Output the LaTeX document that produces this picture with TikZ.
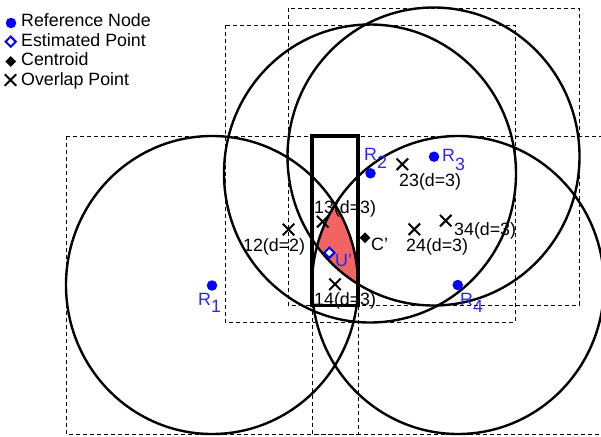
\documentclass[tikz,border=0pt]{standalone}
\usepackage{fontspec}
\setmainfont{Liberation Sans}
\usetikzlibrary{shapes.geometric,shapes.misc}
\definecolor{lblue}{RGB}{40,40,240}
\definecolor{redfill}{RGB}{242,100,100}
\begin{document}
\begin{tikzpicture}[x=1pt,y=-1pt,
  circ/.style={line width=2.4pt,draw=black},
  bbox/.style={draw=black,line width=0.9pt,dash pattern=on 4pt off 3pt},
  refdot/.style={circle,fill=blue,inner sep=0pt,minimum size=10.5pt},
  estpt/.style={diamond,draw=blue,line width=2pt,fill=white,inner sep=0pt,minimum size=11pt},
  cenpt/.style={diamond,fill=black,inner sep=0pt,minimum size=11pt},
  ovpt/.style={cross out,draw=black,line width=2pt,inner sep=0pt,minimum size=9.5pt},
  lbl/.style={anchor=base west,inner sep=0pt,font=\fontsize{17.8}{20}\selectfont},
  rlbl/.style={lbl,text=lblue}]
\useasboundingbox (0,0) rectangle (601,436);
% bounding boxes
\draw[bbox] (66,136) rectangle (358,434);
\draw[bbox] (225,25) rectangle (515,322);
\draw[bbox] (288,8) rectangle (579,305);
\draw[bbox] (312,136) rectangle (604,434);
% red overlap region
\begin{scope}
  \clip (212,285) ellipse [x radius=146,y radius=149];
  \clip (433.5,156.5) ellipse [x radius=146,y radius=149];
  \fill[redfill] (458,285) ellipse [x radius=146,y radius=149];
\end{scope}
% circles
\draw[circ] (212,285) ellipse [x radius=146,y radius=149];
\draw[circ] (370,173.5) ellipse [x radius=146,y radius=149];
\draw[circ] (433.5,156.5) ellipse [x radius=146,y radius=149];
\draw[circ] (458,285) ellipse [x radius=146,y radius=149];
% bold rectangle
\draw[line width=3.4pt] (312,136) rectangle (358,305.5);
% reference nodes
\node[refdot] (r1) at (212,285.5) {};
\node[refdot] (r2) at (370.5,173.3) {};
\node[refdot] (r3) at (434,156.7) {};
\node[refdot] (r4) at (457.7,285) {};
\node[rlbl] (lr1) at (198,305) {R\raisebox{-7pt}{1}};
\node[rlbl] (lr2) at (364,160) {R\raisebox{-8pt}{2}};
\node[rlbl] (lr3) at (442,161.5) {R\raisebox{-8.5pt}{3}};
\node[rlbl] (lr4) at (460,305) {R\raisebox{-7pt}{4}};
% overlap points
\node[ovpt] (o12) at (288.5,229.5) {};
\node[ovpt] (o13) at (322.7,221.7) {};
\node[ovpt] (o14) at (335,284.3) {};
\node[ovpt] (o23) at (402.3,164.3) {};
\node[ovpt] (o24) at (414.3,229.3) {};
\node[ovpt] (o34) at (445.7,220.7) {};
\node[lbl] (l12) at (243,251) {12(d=2)};
\node[lbl] (l13) at (314,213) {13(d=3)};
\node[lbl] (l14) at (314,305) {14(d=3)};
\node[lbl] (l23) at (399,186.5) {23(d=3)};
\node[lbl] (l24) at (406,251.5) {24(d=3)};
\node[lbl] (l34) at (454,235) {34(d=3)};
% centroid and estimated point
\node[cenpt] (cen) at (365,237.7) {};
\node[lbl] (lcen) at (371,250.5) {C'};
\node[estpt] (est) at (329.3,252.7) {};
\node[rlbl] (lest) at (335,266.5) {U'};
% legend
\node[refdot] (g1) at (11,23) {};
\node[estpt] (g2) at (10.7,41.7) {};
\node[cenpt] (g3) at (10.7,61.5) {};
\node[ovpt] (g4) at (10.5,80) {};
\node[lbl] (t1) at (21,27) {Reference Node};
\node[lbl] (t2) at (21,46) {Estimated Point};
\node[lbl] (t3) at (21,65) {Centroid};
\node[lbl] (t4) at (21,85) {Overlap Point};
\end{tikzpicture}
\end{document}
